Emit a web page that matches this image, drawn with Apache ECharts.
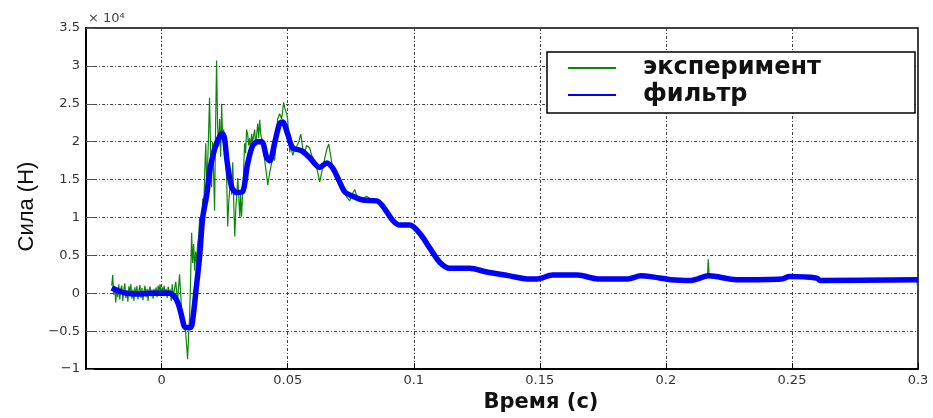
<!DOCTYPE html>
<html><head><meta charset="utf-8">
<script src="https://cdn.jsdelivr.net/npm/echarts@6/dist/echarts.min.js"></script>
<style>html,body{margin:0;padding:0;background:#fff}#c{width:933px;height:418px}</style>
</head><body><div id="c"></div>
<script>
// Experiment (raw) signal: time in s, force in N
const expTime = [
-0.0198,-0.0194,-0.019,-0.0186,-0.0182,-0.0178,-0.0174,-0.017,-0.0166,-0.0162,
-0.0158,-0.0154,-0.015,-0.0146,-0.0142,-0.0138,-0.0134,-0.013,-0.0126,-0.0122,
-0.0118,-0.0114,-0.011,-0.0106,-0.0102,-0.0098,-0.0094,-0.009,-0.0086,-0.0082,
-0.0078,-0.0074,-0.007,-0.0066,-0.0062,-0.0058,-0.0054,-0.005,-0.0046,-0.0042,
-0.0038,-0.0034,-0.003,-0.0026,-0.0022,-0.0018,-0.0014,-0.001,-0.0006,-0.0002,
0.0002,0.0006,0.001,0.0014,0.0018,0.0022,0.0026,0.003,0.0034,0.0038,0.0042,0.0046,0.005,
0.0056,0.0063,0.0071,0.0079,0.0087,0.0095,0.0103,0.0107,0.0111,0.0115,
0.0119,0.0123,0.0127,0.0131,0.0135,0.0139,0.0143,0.0147,0.0151,0.0159,
0.0163,0.0167,0.0171,0.0175,0.0179,0.0183,0.0187,0.019,0.0194,0.0198,
0.0202,0.0206,0.021,0.0214,0.0218,0.0222,0.0226,0.023,0.0234,0.0238,
0.0242,0.0246,0.025,0.0254,0.0258,0.0262,0.0266,0.0274,0.0278,0.0282,
0.0286,0.029,0.0294,0.0302,0.0306,0.031,0.0313,0.0317,0.0321,0.0325,
0.0329,0.0333,0.0337,0.0341,0.0345,0.0349,0.0353,0.0357,0.0361,0.0369,
0.0373,0.0381,0.0385,0.0389,0.0393,0.0401,0.0409,0.0421,0.0429,0.0437,
0.044,0.0448,0.0456,0.046,0.0468,0.0476,0.0484,0.0488,0.0496,0.05,
0.0508,0.0512,0.052,0.0528,0.0536,0.0544,0.0552,0.056,0.0567,0.0575,
0.0587,0.0595,0.0607,0.0619,0.0627,0.0635,0.0647,0.0655,0.0663,0.0671,
0.0679,0.069,0.0698,0.071,0.0722,0.0734,0.0746,0.0754,0.0766,0.0774,
0.0786,0.0798,0.0813,0.0825,0.0833,0.0845,0.0853,0.0865,0.0877,0.09,
0.0917,0.0944,0.098,0.1024,0.1063,0.1103,0.1143,0.1222,0.129,0.138,
0.145,0.155,0.165,0.173,0.185,0.19,0.202,0.21,0.2165,0.2168,
0.2172,0.228,0.246,0.249,0.261,0.2995,0.2999
];
const expForce = [
1000,2400,-200,1000,-1200,800,-500,1200,-800,600,
1000,-1000,500,1300,-600,400,-1100,900,200,1200,
-700,500,-1000,800,-300,1000,-800,400,1100,-600,
700,-900,300,1000,-500,600,-1000,400,900,-400,
500,-700,600,-200,800,-500,1000,300,1200,-400,
800,200,1000,-300,600,-600,900,-200,500,-1000,1200,-800,400,
1500,-1000,2500,-2000,-3500,-5000,-8700,-5500,-3000,2000,
8000,4000,6500,3000,5500,4000,6600,7500,10000,9000,
12500,11000,16000,19800,14000,17500,22000,25800,19000,14000,
20000,16000,10900,22000,30700,22000,19400,23000,18000,25000,
20000,21600,19000,17300,15000,8800,12000,15200,13000,17300,
12000,7500,11000,15200,12500,10100,13000,10100,13000,16000,
19800,18500,21600,21000,19500,20500,19000,21000,20000,21600,
19500,22400,20500,22900,21000,19800,17500,14300,16000,17300,
18200,17500,20500,23000,23700,23000,25200,24500,23700,22900,
18600,19500,18200,19000,19400,20000,21000,19000,18600,19500,
19200,18200,17300,16000,14700,16000,17800,19000,19700,18000,
16500,15500,14700,14000,13500,12700,12200,13000,13700,12800,
12200,12500,12800,12500,12200,12000,12200,11700,11500,10500,
9700,9000,9200,8000,6000,4100,3300,3300,2800,2300,
1900,2400,2400,1900,1900,2300,1800,1700,2200,4500,
2200,1800,1900,2200,1700,1800,600
];
// Filtered signal
const filtTime = [
-0.0198,-0.017,-0.014,-0.01,-0.005,0,0.003,0.005,0.0065,0.0078,
0.0088,0.0095,0.0115,0.0125,0.0135,0.0151,0.0163,0.0179,0.019,0.021,
0.0232,0.0242,0.025,0.026,0.0278,0.0298,0.0321,0.034,0.036,0.038,
0.0397,0.0417,0.0429,0.0448,0.0468,0.048,0.05,0.052,0.0556,0.0587,
0.0627,0.0655,0.0679,0.0706,0.0726,0.0758,0.0798,0.0853,0.0877,0.0917,
0.0944,0.0984,0.1024,0.1063,0.1103,0.1143,0.1222,0.129,0.138,0.145,
0.149,0.155,0.165,0.173,0.185,0.19,0.194,0.202,0.21,0.217,
0.228,0.246,0.249,0.26,0.261,0.3
];
const filtForce = [
700,300,0,-100,0,0,0,-400,-1300,-2800,
-4200,-4500,-4500,-3000,0,5000,10000,13000,16000,19000,
20800,21000,20300,17300,14000,13300,13400,16900,19400,20000,
20000,17900,17500,19800,22400,22600,21000,19200,18800,17900,
16600,17200,16500,14700,13400,12800,12300,12200,11500,9600,
9000,9000,7900,6000,4100,3300,3300,2800,2300,1900,
1900,2400,2400,1900,1900,2300,2200,1800,1700,2300,
1800,1900,2200,2000,1700,1800
];
const xTicks = [0, 0.05, 0.1, 0.15, 0.2, 0.25, 0.3];
const seriesNames = ['эксперимент', 'фильтр'];
const xTitle = 'Время (с)';
const yTitle = 'Сила (Н)';
const yScaleNote = '× 10⁴';

const zip = (a, b) => a.map((v, i) => [v, b[i]]);
const chart = echarts.init(document.getElementById('c'), null, {renderer: 'canvas'});
const gridLine = {show: true, lineStyle: {color: '#444', width: 1, type: [3, 2, 1, 2]}};
chart.setOption({
  backgroundColor: '#fff',
  animation: false,
  grid: {left: 86, right: 15, top: 28, bottom: 38, show: true, borderColor: '#000', borderWidth: 1.5, backgroundColor: 'transparent'},
  xAxis: {
    type: 'value', min: -0.03, max: 0.3,
    axisLine: {show: true, onZero: false, lineStyle: {color: '#000', width: 2}},
    axisTick: {show: true, inside: true, length: 6, customValues: xTicks, lineStyle: {color: '#000'}},
    axisLabel: {customValues: xTicks, margin: 5, color: '#333', fontSize: 13, fontFamily: 'DejaVu Sans',
      formatter: v => String(+(+v).toFixed(2))},
    splitLine: gridLine,
    name: xTitle, nameLocation: 'middle', nameGap: 19,
    nameTextStyle: {fontSize: 21, fontWeight: 'bold', color: '#111', fontFamily: 'DejaVu Sans', padding: [0, 0, 0, 78]}
  },
  yAxis: {
    type: 'value', min: -10000, max: 35000, interval: 5000,
    axisLine: {show: true, onZero: false, lineStyle: {color: '#000', width: 2}},
    axisTick: {show: true, inside: true, length: 8, lineStyle: {color: '#555'}},
    axisLabel: {margin: 6, color: '#333', fontSize: 13, fontFamily: 'DejaVu Sans',
      formatter: v => String(v / 10000).replace('-', '−')},
    splitLine: gridLine,
    name: yTitle, nameLocation: 'middle', nameGap: 42,
    nameTextStyle: {fontSize: 22, color: '#111', fontFamily: "'Liberation Sans Narrow', 'Liberation Sans', sans-serif", padding: [0, 16, 0, 0]}
  },
  legend: {
    data: seriesNames, orient: 'vertical', left: 547, top: 52, align: 'left',
    itemWidth: 48, itemHeight: 14, itemGap: 3,
    padding: [4, 94, 6, 20],
    backgroundColor: '#fff', borderColor: '#000', borderWidth: 1.5,
    itemStyle: {opacity: 0},
    textStyle: {fontSize: 24, fontWeight: 'bold', color: '#111', fontFamily: 'DejaVu Sans', padding: [0, 0, 0, 22]}
  },
  graphic: [{
    type: 'text', left: 88, top: 12,
    style: {text: yScaleNote, fontSize: 13, fill: '#444', fontFamily: 'DejaVu Sans'}
  }],
  series: [{
    name: seriesNames[0], type: 'line', data: zip(expTime, expForce),
    symbol: 'none', lineStyle: {color: '#0a870a', width: 1.2}, itemStyle: {color: '#0a870a'}, z: 2
  }, {
    name: seriesNames[1], type: 'line', data: zip(filtTime, filtForce),
    symbol: 'none', smooth: 0.3, lineStyle: {color: '#0000ff', width: 5.5}, itemStyle: {color: '#0000ff'}, z: 3
  }]
});
</script>
</body></html>
